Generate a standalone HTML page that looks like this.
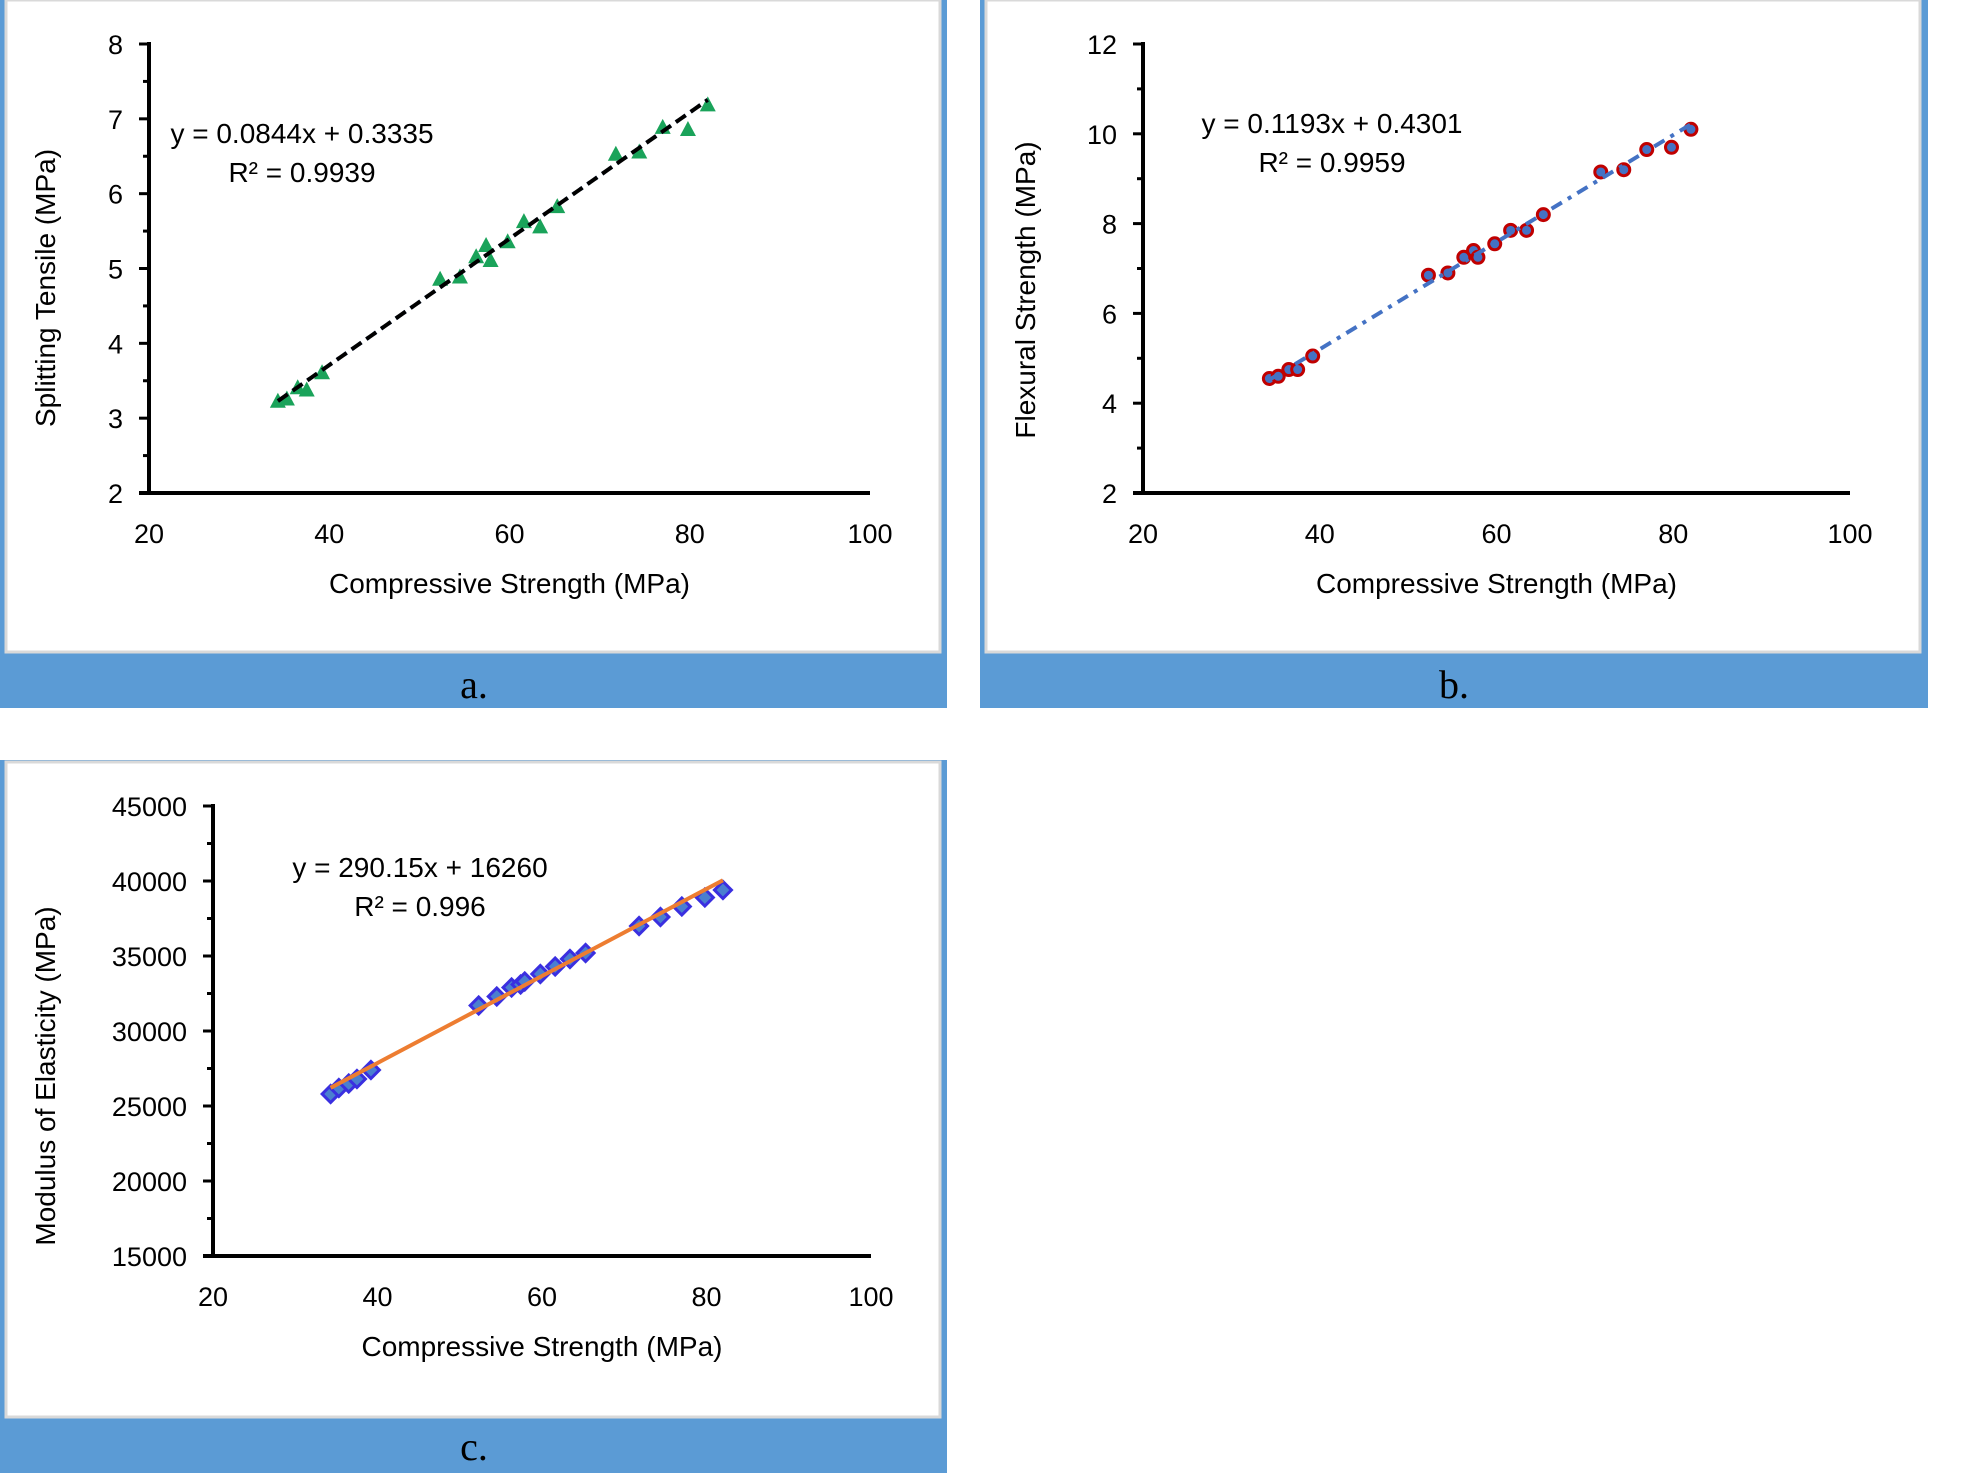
<!DOCTYPE html>
<html><head><meta charset="utf-8"><style>
html,body{margin:0;padding:0;background:#fff;width:1961px;height:1473px;overflow:hidden}
svg{display:block}
text{font-family:"Liberation Sans",sans-serif;fill:#000}
</style></head><body>
<svg id="s" width="1961" height="1473" xmlns="http://www.w3.org/2000/svg">
<rect x="0" y="0" width="947" height="708" fill="#5b9bd5"/>
<rect x="6" y="0" width="934" height="652" fill="#fff" stroke="#d9d9d9" stroke-width="3"/>
<text x="474" y="698" style="font-family:'Liberation Serif',serif" font-size="40" text-anchor="middle">a.</text>
<rect x="980" y="0" width="948" height="708" fill="#5b9bd5"/>
<rect x="986" y="0" width="934" height="652" fill="#fff" stroke="#d9d9d9" stroke-width="3"/>
<text x="1454" y="698" style="font-family:'Liberation Serif',serif" font-size="40" text-anchor="middle">b.</text>
<rect x="0" y="760" width="947" height="713" fill="#5b9bd5"/>
<rect x="6" y="762" width="934" height="655" fill="#fff" stroke="#d9d9d9" stroke-width="3"/>
<text x="474" y="1460" style="font-family:'Liberation Serif',serif" font-size="40" text-anchor="middle">c.</text>
<g id="g"></g>
</svg>
<script>
var g=document.getElementById('g'),h='';
var xs=[34.3,35.3,36.5,37.5,39.2,52.3,54.5,56.3,57.4,57.9,59.8,61.6,63.4,65.3,71.8,74.4,77,79.8,82];
function panel(o){
 var X=function(v){return o.x0+(v-20)/80*(o.x1-o.x0)},Y=function(v){return o.yb-(v-o.ymin)/(o.ymax-o.ymin)*(o.yb-o.yt)};
 h+='<line x1="'+o.x0+'" y1="'+(o.yt-2)+'" x2="'+o.x0+'" y2="'+(o.yb+2)+'" stroke="#000" stroke-width="4"/>';
 h+='<line x1="'+(o.x0-10)+'" y1="'+o.yb+'" x2="'+o.x1+'" y2="'+o.yb+'" stroke="#000" stroke-width="4"/>';
 for(var v=o.ymin;v<=o.ymax+1e-9;v+=o.ystep/2){
  var maj=Math.abs(Math.round((v-o.ymin)/o.ystep)*o.ystep-(v-o.ymin))<1e-6;
  var y=Y(v);
  h+='<line x1="'+(o.x0-(maj?10:6))+'" y1="'+y+'" x2="'+o.x0+'" y2="'+y+'" stroke="#000" stroke-width="3"/>';
  if(maj)h+='<text x="'+(o.x0-26)+'" y="'+(y+10)+'" font-size="27" text-anchor="end">'+v+'</text>';
 }
 for(var t=20;t<=100;t+=20)h+='<text x="'+X(t)+'" y="'+(o.yb+50)+'" font-size="27" text-anchor="middle">'+t+'</text>';
 h+='<text x="'+((o.x0+o.x1)/2)+'" y="'+(o.yb+100)+'" font-size="28" text-anchor="middle">Compressive Strength (MPa)</text>';
 h+='<text transform="translate('+o.ylx+','+o.yly+') rotate(-90)" font-size="28" text-anchor="middle">'+o.yl+'</text>';
 h+='<text x="'+o.ex+'" y="'+o.ey+'" font-size="28" text-anchor="middle">'+o.eq+'</text>';
 h+='<text x="'+o.ex+'" y="'+(o.ey+39)+'" font-size="28" text-anchor="middle">'+o.r2+'</text>';
 var pts='';
 for(var i=0;i<xs.length;i++){var px=X(xs[i]),py=Y(o.ys[i]);
  if(o.m=='tri')pts+='<polygon points="'+px+','+(py-9)+' '+(px-8)+','+(py+6)+' '+(px+8)+','+(py+6)+'" fill="#1aa35a"/>';
  if(o.m=='cir')pts+='<circle cx="'+px+'" cy="'+py+'" r="6" fill="#4472c4" stroke="#c00000" stroke-width="3"/>';
  if(o.m=='dia')pts+='<rect x="'+(px-6)+'" y="'+(py-6)+'" width="12" height="12" transform="rotate(45 '+px+' '+py+')" fill="#4a7fd0" stroke="#3a2fe0" stroke-width="3"/>';
 }
 var lx1=X(34.3),ly1=Y(o.a*34.3+o.b),lx2=X(82),ly2=Y(o.a*82+o.b);
 if(o.m=='dia'){h+=pts+'<line x1="'+lx1+'" y1="'+ly1+'" x2="'+lx2+'" y2="'+ly2+'" stroke="#ed7d31" stroke-width="4"/>';}
 else if(o.m=='tri'){h+=pts+'<line x1="'+lx1+'" y1="'+ly1+'" x2="'+lx2+'" y2="'+ly2+'" stroke="#4472c4" stroke-width="4" stroke-dasharray="3 6"/>'+'<line x1="'+lx1+'" y1="'+ly1+'" x2="'+lx2+'" y2="'+ly2+'" stroke="#000" stroke-width="4" stroke-dasharray="12 6"/>';}
 else {h+=pts+'<line x1="'+lx1+'" y1="'+ly1+'" x2="'+lx2+'" y2="'+ly2+'" stroke="#4472c4" stroke-width="4" stroke-dasharray="12 7 4 7"/>';}
}
panel({x0:149,x1:870,yt:44,yb:493,ymin:2,ymax:8,ystep:1,yl:'Splitting Tensile  (MPa)',ylx:55,yly:288,ex:302,ey:143,eq:'y = 0.0844x + 0.3335',r2:'R² = 0.9939',m:'tri',a:0.0844,b:0.3335,
 ys:[3.22,3.25,3.4,3.37,3.6,4.85,4.88,5.15,5.3,5.1,5.35,5.62,5.55,5.82,6.52,6.55,6.88,6.85,7.18]});
panel({x0:1143,x1:1850,yt:44,yb:493,ymin:2,ymax:12,ystep:2,yl:'Flexural Strength (MPa)',ylx:1035,yly:290,ex:1332,ey:133,eq:'y = 0.1193x + 0.4301',r2:'R² = 0.9959',m:'cir',a:0.1193,b:0.4301,
 ys:[4.55,4.6,4.75,4.75,5.05,6.85,6.9,7.25,7.4,7.25,7.55,7.85,7.85,8.2,9.15,9.2,9.65,9.7,10.1]});
panel({x0:213,x1:871,yt:806,yb:1256,ymin:15000,ymax:45000,ystep:5000,yl:'Modulus of Elasticity (MPa)',ylx:55,yly:1076,ex:420,ey:877,eq:'y = 290.15x + 16260',r2:'R² = 0.996',m:'dia',a:290.15,b:16260,
 ys:[25800,26200,26500,26800,27400,31700,32300,32900,33100,33300,33800,34300,34800,35200,37000,37600,38300,38900,39400]});
g.innerHTML=h;
</script>
</body></html>
